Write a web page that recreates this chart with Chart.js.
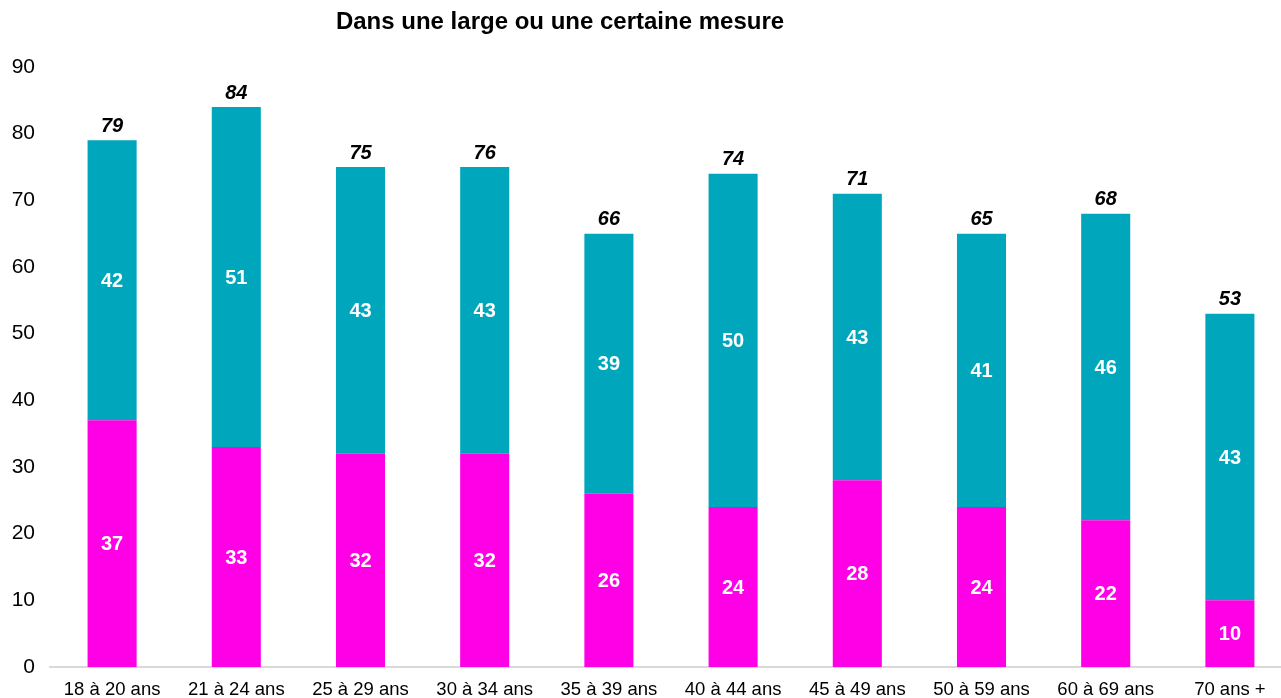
<!DOCTYPE html>
<html>
<head>
<meta charset="utf-8">
<script src="https://cdn.jsdelivr.net/npm/chart.js@4"></script>
<style>
html,body{margin:0;padding:0;background:#fff;overflow:hidden;}
#wrap{width:1296px;height:698px;}
</style>
</head>
<body>
<div id="wrap"><canvas id="c" width="1296" height="698"></canvas></div>
<script>
const categories = ["18 à 20 ans","21 à 24 ans","25 à 29 ans","30 à 34 ans","35 à 39 ans","40 à 44 ans","45 à 49 ans","50 à 59 ans","60 à 69 ans","70 ans +"];
const largeMesure = [37,33,32,32,26,24,28,24,22,10];
const certaineMesure = [42,51,43,43,39,50,43,41,46,43];
const totals = [79,84,75,76,66,74,71,65,68,53];
const yTicks = [0,10,20,30,40,50,60,70,80,90];
const titleText = "Dans une large ou une certaine mesure";

const FONT = "'Liberation Sans', Arial, Helvetica, sans-serif";

const labelPlugin = {
  id: 'labels',
  afterDatasetsDraw(chart) {
    const ctx = chart.ctx;
    ctx.save();
    ctx.textAlign = 'center';
    ctx.textBaseline = 'middle';
    ctx.fillStyle = '#ffffff';
    ctx.font = "bold 20px " + FONT;
    chart.data.datasets.forEach((ds, di) => {
      const meta = chart.getDatasetMeta(di);
      meta.data.forEach((el, i) => {
        const cy = (el.y + el.base) / 2;
        ctx.fillText(String(ds.data[i]), el.x, cy + 1);
      });
    });
    const topMeta = chart.getDatasetMeta(chart.data.datasets.length - 1);
    ctx.fillStyle = '#000000';
    ctx.font = "italic bold 20px " + FONT;
    topMeta.data.forEach((el, i) => {
      ctx.fillText(String(totals[i]), el.x, el.y - 14);
    });
    ctx.font = "bold 24px " + FONT;
    ctx.fillText(titleText, 560, 22);
    ctx.restore();
  }
};

new Chart(document.getElementById('c'), {
  type: 'bar',
  data: {
    labels: categories,
    datasets: [
      { label: 'Dans une large mesure', data: largeMesure, backgroundColor: '#ff00e6', borderWidth: 0,
        barPercentage: 0.395, categoryPercentage: 1 },
      { label: 'Dans une certaine mesure', data: certaineMesure, backgroundColor: '#00a7bc', borderWidth: 0,
        barPercentage: 0.395, categoryPercentage: 1 }
    ]
  },
  options: {
    responsive: false,
    animation: false,
    layout: { padding: { top: 67, right: 4, left: 0, bottom: 0 } },
    plugins: { legend: { display: false }, title: { display: false }, tooltip: { enabled: false } },
    scales: {
      x: {
        stacked: true,
        grid: { display: false, drawTicks: false },
        border: { display: true, color: '#d9d9d9', width: 2 },
        ticks: { color: '#000', font: { family: FONT, size: 18.5 }, padding: 12, maxRotation: 0, autoSkip: false },
        afterFit(s) { s.height = 31; }
      },
      y: {
        stacked: true,
        min: 0, max: 90,
        afterBuildTicks(s) { s.ticks = yTicks.map(v => ({ value: v })); },
        grid: { display: false, drawTicks: false },
        border: { display: false },
        ticks: { color: '#000', font: { family: FONT, size: 21 }, padding: 15 },
        afterFit(s) { s.width = 50; }
      }
    }
  },
  plugins: [labelPlugin]
});
</script>
</body>
</html>
